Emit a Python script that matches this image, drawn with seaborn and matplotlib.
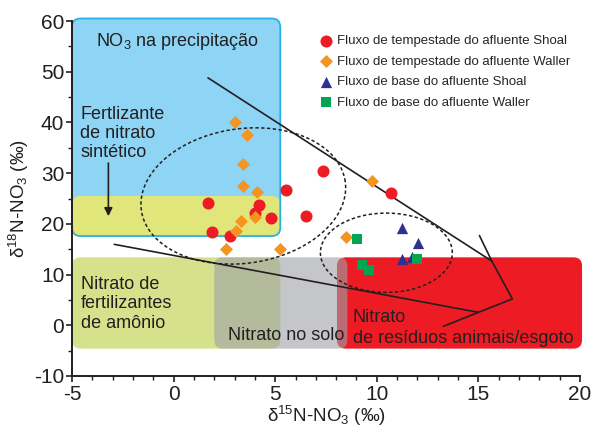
import numpy as np
import pandas as pd
import seaborn as sns
import matplotlib.pyplot as plt
from matplotlib.patches import FancyBboxPatch
from matplotlib.ticker import MultipleLocator

# dados (δ15N, δ18O)
shoal_storm_x = [1.71, 1.90, 2.79, 4.22, 4.02, 4.81, 5.54, 6.53, 7.36, 10.71]
shoal_storm_y = [24.1, 18.3, 17.7, 23.7, 22.1, 21.1, 26.7, 21.5, 30.4, 26.1]
waller_storm_x = [3.03, 3.63, 3.43, 3.43, 4.12, 3.33, 4.02, 3.08, 2.59, 5.25, 9.78, 8.50]
waller_storm_y = [40.1, 37.5, 31.8, 27.4, 26.3, 20.5, 21.3, 18.5, 15.0, 15.0, 28.4, 17.5]
shoal_base_x = [11.23, 12.02, 11.23, 11.73]
shoal_base_y = [19.1, 16.3, 13.0, 13.5]
waller_base_x = [9.02, 9.25, 9.63, 11.97]
waller_base_y = [17.1, 11.8, 10.9, 13.0]

labels = ['Fluxo de tempestade do afluente Shoal',
          'Fluxo de tempestade do afluente Waller',
          'Fluxo de base do afluente Shoal',
          'Fluxo de base do afluente Waller']

# regiões das fontes: (x0, x1, y0, y1)
reg_precip = (-5.0, 5.25, 17.6, 60.5)
reg_sintetico = (-5.0, 5.25, 17.6, 25.5)
reg_amonio = (-5.0, 5.25, -4.6, 13.4)
reg_solo = (2.0, 8.55, -4.6, 13.4)
reg_esgoto = (8.04, 20.1, -4.6, 13.4)

# linhas (desnitrificação)
upper_x = [1.69, 15.66]
upper_y = [48.8, 12.65]
tick_x = [15.05, 15.66, 16.67, 15.0, 13.28]
tick_y = [17.7, 12.65, 5.2, 2.55, -0.2]
lower_x = [-2.92, 15.0]
lower_y = [15.96, 2.55]

TXT = '#231f20'
PX_X = 20.33   # px por unidade x
PX_Y = 5.05    # px por unidade y

sns.set_style('ticks')
plt.rcParams['font.family'] = ['Liberation Sans', 'DejaVu Sans']
plt.rcParams['mathtext.fontset'] = 'custom'
plt.rcParams['mathtext.rm'] = 'Liberation Sans'
plt.rcParams['mathtext.it'] = 'Liberation Sans:italic'
plt.rcParams['mathtext.bf'] = 'Liberation Sans:bold'
plt.rcParams['axes.unicode_minus'] = False

fig = plt.figure(figsize=(6.04, 4.28), dpi=100)
ax = fig.add_axes([0.1192, 0.1215, 0.8411, 0.8294])
ax.set_xlim(-5, 20)
ax.set_ylim(-10, 60)


def box(r, **kw):
    x0, x1, y0, y1 = r
    p = FancyBboxPatch((x0, y0), x1 - x0, y1 - y0,
                       boxstyle='round,pad=0,rounding_size=0.42',
                       mutation_aspect=PX_X / PX_Y, clip_on=False, **kw)
    ax.add_patch(p)


box(reg_precip, facecolor='#8dd4f5', edgecolor='none', zorder=1)
box(reg_sintetico, facecolor='#e1e67a', edgecolor='none', zorder=1.1)
box(reg_precip, facecolor='none', edgecolor='#27b2e6', lw=1.3, zorder=1.2)
box(reg_amonio, facecolor='#d5e28b', edgecolor='none', zorder=1)
box(reg_esgoto, facecolor='#ed1c24', edgecolor='none', zorder=1.1)
box(reg_solo, facecolor=(0.62, 0.63, 0.66, 0.6), edgecolor='none', zorder=1.2)

# elipses tracejadas
t = np.linspace(0, 2 * np.pi, 200)
for cx, cy, a, b, ang in [(3.43, 25.5, 103, 67, 8), (10.47, 14.3, 66, 39.5, 0)]:
    th = np.radians(ang)
    u = a * np.cos(t) * np.cos(th) - b * np.sin(t) * np.sin(th)
    v = a * np.cos(t) * np.sin(th) + b * np.sin(t) * np.cos(th)
    ax.plot(cx + u / PX_X, cy + v / PX_Y, color=TXT, lw=1.1,
            ls=(0, (2.2, 1.6)), zorder=3)

ax.plot(upper_x, upper_y, color=TXT, lw=1.2, zorder=3)
ax.plot(tick_x, tick_y, color=TXT, lw=1.2, zorder=3)
ax.plot(lower_x, lower_y, color=TXT, lw=1.2, zorder=3)

# textos das regiões
fs = 13
ax.text(-3.8, 55.9, 'NO$_3$ na precipitação', fontsize=fs, color=TXT,
        va='center', ha='left', zorder=4)
ax.text(-4.59, 43.2, 'Fertlizante\nde nitrato\nsintético', fontsize=fs,
        color=TXT, va='top', ha='left', linespacing=1.15, zorder=4)
ax.annotate('', xy=(-3.21, 21.5), xytext=(-3.21, 32.0),
            arrowprops=dict(arrowstyle='-|>', color=TXT, lw=1.2,
                            mutation_scale=12, shrinkA=0, shrinkB=0), zorder=4)
ax.text(-4.57, 9.8, 'Nitrato de\nfertilizantes\nde amônio', fontsize=fs,
        color=TXT, va='top', ha='left', linespacing=1.2, zorder=4)
ax.text(2.7, -2.0, 'Nitrato no solo', fontsize=fs, color=TXT,
        va='center', ha='left', zorder=4)
ax.text(8.82, 1.5, 'Nitrato', fontsize=fs, color=TXT,
        va='center', ha='left', zorder=4)
ax.text(8.82, -2.7, 'de resíduos animais/esgoto', fontsize=fs, color=TXT,
        va='center', ha='left', zorder=4)

# pontos
sns.scatterplot(x=shoal_storm_x, y=shoal_storm_y, marker='o', s=75,
                color='#ed1c24', linewidth=0, label=labels[0], ax=ax, zorder=5)
sns.scatterplot(x=waller_storm_x, y=waller_storm_y, marker='D', s=44,
                color='#f7941d', linewidth=0, label=labels[1], ax=ax, zorder=5)
sns.scatterplot(x=shoal_base_x, y=shoal_base_y, marker='^', s=66,
                color='#2e3192', linewidth=0, label=labels[2], ax=ax, zorder=5)
sns.scatterplot(x=waller_base_x, y=waller_base_y, marker='s', s=50,
                color='#00a651', linewidth=0, label=labels[3], ax=ax, zorder=5)

ax.legend(frameon=False, loc='upper left', bbox_to_anchor=(0.528, 0.918),
          bbox_transform=fig.transFigure, fontsize=9.5, handletextpad=0.4,
          labelspacing=0.62, borderpad=0, borderaxespad=0, handlelength=1.0)

# eixos
for s in ['top', 'right']:
    ax.spines[s].set_visible(False)
for s in ['left', 'bottom']:
    ax.spines[s].set_linewidth(1.4)
    ax.spines[s].set_color(TXT)
ax.xaxis.set_major_locator(MultipleLocator(5))
ax.xaxis.set_minor_locator(MultipleLocator(1))
ax.yaxis.set_major_locator(MultipleLocator(10))
ax.yaxis.set_minor_locator(MultipleLocator(5))
ax.tick_params(which='major', direction='out', length=4.5, width=1.2,
               labelsize=15, colors=TXT)
ax.tick_params(which='minor', direction='out', length=3, width=1.0, colors=TXT)
ax.tick_params(axis='y', pad=1)
ax.tick_params(axis='x', pad=2)
ax.set_xlabel('δ$^{15}$N-NO$_3$ (‰)', fontsize=13.5, color=TXT, labelpad=0)
ax.set_ylabel('δ$^{18}$N-NO$_3$ (‰)', fontsize=13.5, color=TXT, labelpad=2)

fig.savefig('out.png', dpi=100)
